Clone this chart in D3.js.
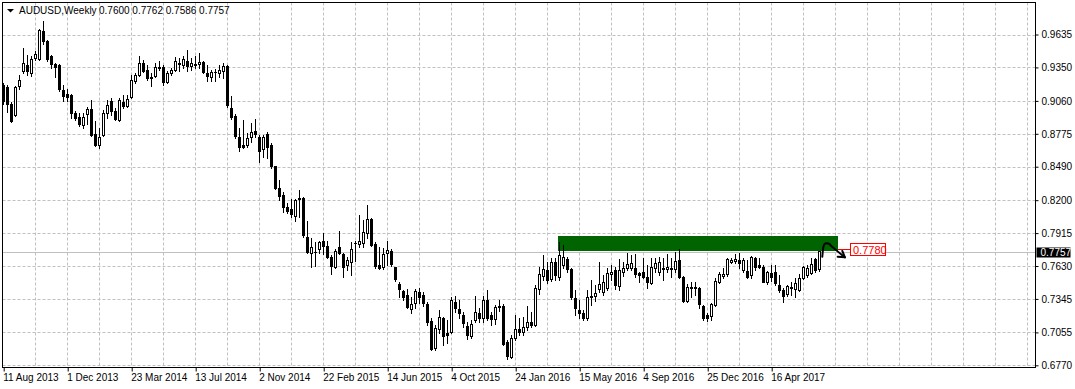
<!DOCTYPE html>
<html>
<head>
<meta charset="utf-8">
<script src="https://cdn.jsdelivr.net/npm/d3@7"></script>
<style>
  body { margin: 0; background: #fff; }
  svg { display: block; }
  text { font-family: Tahoma, "Liberation Sans", Arial, sans-serif; font-size: 10px; }
</style>
</head>
<body>
<div id="chart"></div>
<script>
// weekly AUDUSD bars, first bar = week of 11 Aug 2013
var opens = [.9197,.9180,.9033,.8938,.9189,.9319,.9371,.9301,.9431,.9423,.9665,.9578,.9449,.9379,.9371,.9154,.9120,.9110,.8955,.8920,
  .8851,.8946,.8990,.8773,.8678,.8764,.8955,.9059,.8972,.8894,.9050,.9016,.9094,.9232,.9284,.9388,.9327,.9267,.9275,.9353,
  .9353,.9223,.9301,.9327,.9388,.9371,.9405,.9362,.9375,.9379,.9397,.9301,.9267,.9306,.9301,.9319,.9362,.8998,.8929,.8747,
  .8678,.8678,.8747,.8799,.8747,.8643,.8773,.8678,.8496,.8305,.8244,.8141,.8124,.8063,.8210,.8218,.7881,.7742,.7755,.7777,
  .7846,.7803,.7708,.7621,.7795,.7734,.7638,.7664,.7825,.7820,.7829,.7916,.8037,.7820,.7638,.7621,.7742,.7760,.7621,.7474,
  .7413,.7379,.7258,.7310,.7405,.7379,.7301,.7154,.6920,.7084,.7180,.7050,.7058,.7319,.7258,.7206,.7110,.7024,.7162,.7223,
  .7180,.7336,.7206,.7171,.7284,.7284,.6972,.6842,.7006,.7084,.7058,.7102,.7145,.7119,.7430,.7543,.7595,.7517,.7664,.7535,
  .7638,.7691,.7604,.7353,.7249,.7223,.7180,.7362,.7370,.7430,.7405,.7439,.7561,.7595,.7457,.7578,.7613,.7613,.7613,.7569,
  .7578,.7535,.7482,.7613,.7578,.7613,.7604,.7613,.7604,.7682,.7535,.7327,.7448,.7439,.7439,.7284,.7206,.7197,.7292,.7491,
  .7543,.7561,.7664,.7673,.7682,.7595,.7587,.7552,.7699,.7638,.7621,.7491,.7569,.7578,.7465,.7422,.7387,.7448,.7431,.7422,
  .7526,.7552,.7569,.7691,.7600];
var highs = [.9215,.9197,.9050,.9189,.9284,.9518,.9457,.9449,.9492,.9680,.9752,.9587,.9457,.9384,.9379,.9197,.9163,.9120,.8972,.8955,
  .8955,.9007,.9067,.8886,.8825,.8981,.9067,.9085,.8998,.9085,.9111,.9111,.9284,.9301,.9449,.9414,.9371,.9301,.9388,.9405,
  .9371,.9319,.9345,.9440,.9431,.9449,.9501,.9431,.9449,.9475,.9405,.9371,.9327,.9336,.9371,.9388,.9371,.9102,.8946,.8825,
  .8894,.8782,.8868,.8903,.8764,.8764,.8790,.8695,.8500,.8375,.8271,.8176,.8210,.8210,.8288,.8228,.8020,.7872,.7838,.7846,
  .7916,.7846,.7725,.7777,.7933,.7742,.7708,.7838,.7846,.8071,.8028,.8158,.8045,.7838,.7795,.7786,.7846,.7777,.7625,.7491,
  .7422,.7431,.7362,.7431,.7439,.7405,.7319,.7180,.7119,.7249,.7188,.7162,.7362,.7370,.7336,.7232,.7145,.7162,.7370,.7266,
  .7370,.7422,.7232,.7292,.7336,.7301,.6989,.7032,.7206,.7180,.7188,.7284,.7232,.7465,.7621,.7725,.7664,.7699,.7699,.7838,
  .7812,.7708,.7613,.7422,.7336,.7249,.7422,.7508,.7465,.7664,.7552,.7613,.7638,.7621,.7690,.7664,.7742,.7725,.7734,.7578,
  .7699,.7638,.7699,.7699,.7708,.7699,.7734,.7699,.7751,.7777,.7543,.7474,.7491,.7491,.7448,.7292,.7223,.7310,.7526,.7578,
  .7613,.7699,.7699,.7734,.7742,.7699,.7682,.7716,.7708,.7699,.7638,.7587,.7638,.7638,.7552,.7439,.7465,.7491,.7526,.7561,
  .7630,.7638,.7699,.7699,.7762];
var lows = [.9033,.8964,.8877,.8929,.9163,.9301,.9284,.9275,.9414,.9414,.9553,.9405,.9345,.9267,.9145,.9059,.9059,.8912,.8894,.8842,
  .8825,.8860,.8760,.8669,.8652,.8756,.8912,.8938,.8894,.8886,.8998,.9007,.9085,.9215,.9275,.9310,.9241,.9189,.9267,.9327,
  .9197,.9215,.9284,.9319,.9319,.9345,.9319,.9327,.9345,.9345,.9301,.9232,.9232,.9232,.9267,.9258,.9007,.8903,.8738,.8626,
  .8652,.8660,.8704,.8747,.8531,.8574,.8565,.8479,.8297,.8201,.8098,.8089,.8054,.8020,.8054,.7881,.7742,.7621,.7630,.7742,
  .7734,.7700,.7561,.7613,.7734,.7535,.7595,.7552,.7673,.7795,.7795,.7872,.7803,.7613,.7605,.7604,.7638,.7630,.7500,.7362,
  .7336,.7270,.7223,.7266,.7310,.7284,.7119,.6903,.6903,.7050,.6946,.6963,.7050,.7232,.7180,.7102,.6998,.7006,.7145,.7145,
  .7145,.7162,.7119,.7128,.7240,.6946,.6825,.6834,.6989,.7032,.7032,.7076,.7102,.7110,.7387,.7508,.7482,.7500,.7508,.7508,
  .7613,.7578,.7344,.7206,.7180,.7162,.7162,.7292,.7327,.7405,.7379,.7422,.7508,.7430,.7422,.7543,.7595,.7595,.7535,.7491,
  .7526,.7439,.7474,.7578,.7552,.7508,.7578,.7535,.7578,.7526,.7319,.7319,.7362,.7379,.7266,.7162,.7154,.7162,.7284,.7482,
  .7526,.7543,.7656,.7656,.7613,.7578,.7526,.7526,.7595,.7613,.7491,.7474,.7500,.7465,.7405,.7319,.7370,.7379,.7362,.7413,
  .7517,.7535,.7561,.7578,.7586];
var closes = [.9059,.9033,.8886,.9180,.9241,.9388,.9319,.9423,.9466,.9674,.9578,.9423,.9379,.9353,.9163,.9102,.9094,.8955,.8912,.8860,
  .8920,.8990,.8764,.8678,.8747,.8955,.9024,.8972,.8903,.9067,.9016,.9076,.9241,.9284,.9388,.9319,.9258,.9258,.9353,.9345,
  .9223,.9301,.9327,.9405,.9379,.9423,.9362,.9388,.9383,.9397,.9310,.9275,.9310,.9310,.9327,.9362,.9024,.8920,.8756,.8660,
  .8660,.8738,.8790,.8773,.8626,.8747,.8660,.8496,.8305,.8236,.8141,.8106,.8080,.8201,.8218,.7898,.7751,.7795,.7751,.7838,
  .7803,.7708,.7630,.7760,.7742,.7621,.7682,.7777,.7829,.7846,.7924,.8037,.7812,.7630,.7613,.7734,.7768,.7647,.7517,.7430,
  .7362,.7275,.7301,.7413,.7362,.7310,.7145,.6911,.7093,.7188,.7024,.7032,.7336,.7266,.7223,.7136,.7032,.7128,.7232,.7180,
  .7336,.7180,.7171,.7275,.7275,.6955,.6851,.7006,.7084,.7058,.7102,.7145,.7119,.7439,.7561,.7604,.7508,.7664,.7552,.7725,
  .7708,.7604,.7362,.7266,.7223,.7180,.7362,.7370,.7396,.7474,.7491,.7569,.7578,.7465,.7595,.7613,.7647,.7656,.7561,.7552,
  .7535,.7491,.7621,.7656,.7664,.7604,.7621,.7604,.7673,.7535,.7327,.7448,.7439,.7448,.7301,.7180,.7180,.7301,.7500,.7561,
  .7561,.7691,.7682,.7691,.7656,.7682,.7535,.7708,.7621,.7621,.7491,.7578,.7535,.7482,.7422,.7370,.7457,.7439,.7482,.7526,
  .7621,.7613,.7647,.7595,.7757];

var priceTicks = [0.9635, 0.9350, 0.9060, 0.8775, 0.8490, 0.8200, 0.7915, 0.7630, 0.7345, 0.7055, 0.6770];
var timeLabels = ['11 Aug 2013', '1 Dec 2013', '23 Mar 2014', '13 Jul 2014', '2 Nov 2014', '22 Feb 2015',
  '14 Jun 2015', '4 Oct 2015', '24 Jan 2016', '15 May 2016', '4 Sep 2016', '25 Dec 2016', '16 Apr 2017'];
var timeLabelBars = [0, 16, 32, 48, 64, 80, 96, 112, 128, 144, 160, 176, 192];

// resistance zone + annotation
var zone = {fromBar: 139, toBar: 209, top: 0.7890, bottom: 0.7760};
var zoneLevel = 0.7780;
var arrowPath = [[204.65, .7711], [205.0, .7803], [205.33, .7823], [206.33, .7823], [207.0, .7800], [210.3, .7705]];
var arrowHead = [[208.5, .7711], [210.3, .7705], [209.65, .7760]];

(function() {
  var W = 1075, H = 389;
  var left = 2.5, right = 1035.5, top = 2.5, bottom = 367.5;

  var svg = d3.select('#chart').append('svg')
    .attr('width', W)
    .attr('height', H);

  var x = d3.scaleLinear().domain([0, 1]).range([3.7, 7.7]);
  var y = d3.scaleLinear().domain([0.6770, 0.9635]).range([365.3, 34.5]);
  var px = function(i) { return Math.floor(x(i)); };
  var py = function(p) { return Math.round(y(p)); };

  svg.append('clipPath').attr('id', 'plot')
    .append('rect').attr('x', left).attr('y', top)
    .attr('width', right - left).attr('height', bottom - top);

  var grid = svg.append('g')
    .attr('stroke', '#c0c0c0')
    .attr('stroke-dasharray', '3,2');
  priceTicks.forEach(function(p) {
    grid.append('line')
      .attr('x1', left).attr('x2', right)
      .attr('y1', py(p) + 0.5).attr('y2', py(p) + 0.5);
  });
  for (var b = 8; x(b) < right; b += 8) {
    grid.append('line')
      .attr('x1', px(b) + 0.5).attr('x2', px(b) + 0.5)
      .attr('y1', top).attr('y2', bottom);
  }

  var last = closes.length - 1;
  // current price line
  svg.append('line')
    .attr('x1', left).attr('x2', right)
    .attr('y1', py(closes[last]) + 1.5).attr('y2', py(closes[last]) + 1.5)
    .attr('stroke', '#c0c0c0');

  var plot = svg.append('g').attr('clip-path', 'url(#plot)');

  plot.append('rect')
    .attr('x', px(zone.fromBar) - 1)
    .attr('y', py(zone.top))
    .attr('width', px(zone.toBar) - px(zone.fromBar))
    .attr('height', py(zone.bottom) - py(zone.top))
    .attr('fill', '#006400');

  var candles = plot.append('g');
  closes.forEach(function(c, i) {
    var o = opens[i], cx = px(i);
    var hi = Math.max(highs[i], o, c), lo = Math.min(lows[i], o, c);
    candles.append('line')
      .attr('x1', cx + 0.5).attr('x2', cx + 0.5)
      .attr('y1', py(hi)).attr('y2', py(lo) + 1)
      .attr('stroke', '#000');
    var yt = py(Math.max(o, c)), yb = py(Math.min(o, c));
    if (yb - yt >= 1) {
      candles.append('rect')
        .attr('x', cx - 0.5).attr('y', yt + 0.5)
        .attr('width', 2).attr('height', yb - yt)
        .attr('fill', c < o ? '#000' : '#fff')
        .attr('stroke', '#000');
    } else {
      candles.append('line')
        .attr('x1', cx - 1).attr('x2', cx + 2)
        .attr('y1', yt + 0.5).attr('y2', yt + 0.5)
        .attr('stroke', '#000');
    }
  });

  // hand drawn arrow
  var line = d3.line()
    .x(function(d) { return x(d[0]); })
    .y(function(d) { return y(d[1]); });
  var ann = svg.append('g')
    .attr('fill', 'none')
    .attr('stroke', '#000')
    .attr('stroke-width', 2)
    .attr('stroke-linecap', 'round')
    .attr('stroke-linejoin', 'round');
  ann.append('path').attr('d', line.curve(d3.curveCatmullRom)(arrowPath));
  ann.append('path').attr('d', line.curve(d3.curveLinear)(arrowHead));

  // zone level label
  var ly = py(zoneLevel) + 0.5;
  var lx = px(zone.toBar) + 11;
  svg.append('line')
    .attr('x1', px(zone.toBar) - 1).attr('x2', lx)
    .attr('y1', ly).attr('y2', ly)
    .attr('stroke', '#ff0000');
  svg.append('rect')
    .attr('x', lx + 0.5).attr('y', ly - 6)
    .attr('width', 35).attr('height', 12)
    .attr('fill', '#fff').attr('stroke', '#ff0000');
  svg.append('text')
    .attr('x', lx + 3).attr('y', ly + 4)
    .attr('fill', '#ff0000')
    .style('font-size', '11px')
    .text(zoneLevel.toFixed(4));

  // frame
  svg.append('rect')
    .attr('x', left).attr('y', top)
    .attr('width', right - left).attr('height', bottom - top)
    .attr('fill', 'none').attr('stroke', '#000');

  // price axis
  var yAxis = svg.append('g')
    .attr('transform', 'translate(' + right + ',0)')
    .call(d3.axisRight(y).tickValues(priceTicks)
      .tickFormat(d3.format('.4f'))
      .tickSizeInner(3).tickSizeOuter(0).tickPadding(3));
  yAxis.select('.domain').remove();
  yAxis.selectAll('text').attr('fill', '#000').style('font-size', '10px').style('font-family', null);

  // current price box
  var cy = py(closes[last]) + 1.5;
  svg.append('rect')
    .attr('x', right + 1).attr('y', cy - 5)
    .attr('width', 34).attr('height', 10)
    .attr('fill', '#000');
  svg.append('text')
    .attr('x', right + 5).attr('y', cy + 3.5)
    .attr('fill', '#fff')
    .text(closes[last].toFixed(4));

  // time axis
  var xAxis = svg.append('g')
    .attr('transform', 'translate(0,' + bottom + ')')
    .call(d3.axisBottom(x).tickValues(timeLabelBars)
      .tickFormat(function(d, i) { return timeLabels[i]; })
      .tickSizeInner(4).tickSizeOuter(0).tickPadding(2));
  xAxis.select('.domain').remove();
  xAxis.selectAll('text')
    .attr('text-anchor', 'start')
    .attr('dx', -1)
    .attr('fill', '#000')
    .style('font-size', '10px').style('font-family', null);

  // title
  svg.append('path')
    .attr('d', 'M7,9L14,9L10.5,12.5Z')
    .attr('fill', '#000');
  svg.append('text')
    .attr('x', 19).attr('y', 14)
    .text('AUDUSD,Weekly');
  svg.append('text')
    .attr('x', 99).attr('y', 14)
    .text([opens[last], highs[last], lows[last], closes[last]].map(function(v) { return v.toFixed(4); }).join(' '));
})();
</script>
</body>
</html>
